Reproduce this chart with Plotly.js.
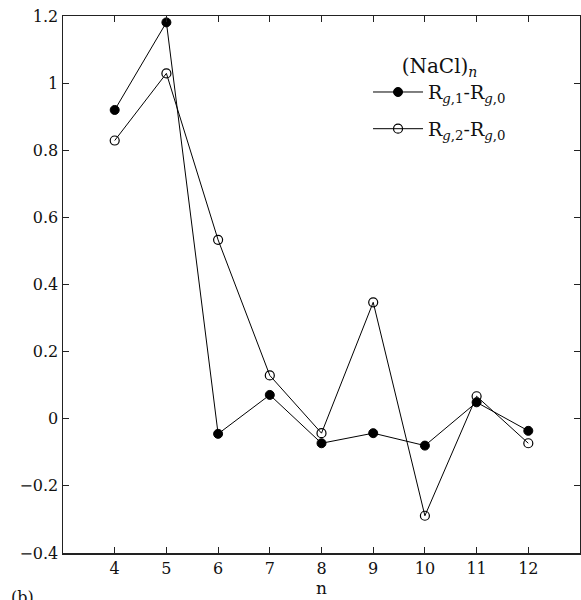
<!DOCTYPE html>
<html>
<head>
<meta charset="utf-8">
<script src="https://cdn.plot.ly/plotly-3.0.1.min.js"></script>
<style>html,body{margin:0;padding:0;background:#fff;}#chart{width:581px;height:600px;}</style>
</head>
<body>
<div id="chart"></div>
<script>
const nValues = [4, 5, 6, 7, 8, 9, 10, 11, 12];
const rg1MinusRg0 = [0.920, 1.181, -0.045, 0.071, -0.073, -0.043, -0.080, 0.049, -0.036];
const rg2MinusRg0 = [0.829, 1.029, 0.533, 0.129, -0.043, 0.347, -0.289, 0.067, -0.073];
const xTicks = [4, 5, 6, 7, 8, 9, 10, 11, 12];
const yTicks = [-0.4, -0.2, 0, 0.2, 0.4, 0.6, 0.8, 1, 1.2];
const yTickLabels = ['\u22120.4', '\u22120.2', '0', '0.2', '0.4', '0.6', '0.8', '1', '1.2'];

const fam = '"DejaVu Serif", "Liberation Serif", serif';
const font = {family: fam, size: 16, color: '#111'};

const traces = [
  {
    x: nValues, y: rg1MinusRg0, mode: 'lines+markers', type: 'scatter',
    name: 'R<sub><i>g</i>,1</sub>-R<sub><i>g</i>,0</sub>', legendgroup: 'a',
    line: {color: '#000', width: 1},
    marker: {symbol: 'circle', size: 9, color: '#000', line: {color: '#000', width: 1}}
  },
  {
    x: nValues, y: rg2MinusRg0, mode: 'lines+markers', type: 'scatter',
    name: 'R<sub><i>g</i>,2</sub>-R<sub><i>g</i>,0</sub>', legendgroup: 'b',
    line: {color: '#000', width: 1},
    marker: {symbol: 'circle-open', size: 9, color: '#000', line: {color: '#000', width: 1.2}}
  }
];

const axisCommon = {
  showgrid: false, zeroline: false, showline: true, linecolor: '#222', linewidth: 1.5,
  mirror: 'ticks', ticks: 'inside', ticklen: 6, tickwidth: 1, tickcolor: '#222',
  tickfont: font
};

const layout = {
  width: 581, height: 600,
  margin: {l: 63, r: 1, t: 16, b: 47},
  paper_bgcolor: '#fff', plot_bgcolor: '#fff',
  font: font,
  showlegend: true,
  legend: {
    x: 0.59, y: 0.942, xanchor: 'left', yanchor: 'top',
    bgcolor: 'rgba(0,0,0,0)', borderwidth: 0,
    font: {family: fam, size: 19, color: '#111'},
    title: {text: '(NaCl)<sub><i>n</i></sub>', side: 'top center', font: {family: fam, size: 20, color: '#111'}},
    itemwidth: 50, tracegroupgap: 9
  },
  xaxis: Object.assign({}, axisCommon, {
    range: [3, 13], tickvals: xTicks, ticktext: xTicks.map(String),
    title: {text: 'n', font: {family: fam, size: 17, color: '#111'}, standoff: 0}
  }),
  yaxis: Object.assign({}, axisCommon, {
    range: [-0.4, 1.2], tickvals: yTicks, ticktext: yTickLabels
  }),
  annotations: [
    {text: '(b)', xref: 'paper', yref: 'paper', x: -0.105, y: -0.083, xanchor: 'left', yanchor: 'middle',
     showarrow: false, font: {family: fam, size: 16, color: '#111'}}
  ]
};

Plotly.newPlot('chart', traces, layout, {displayModeBar: false, staticPlot: true});
</script>
</body>
</html>
